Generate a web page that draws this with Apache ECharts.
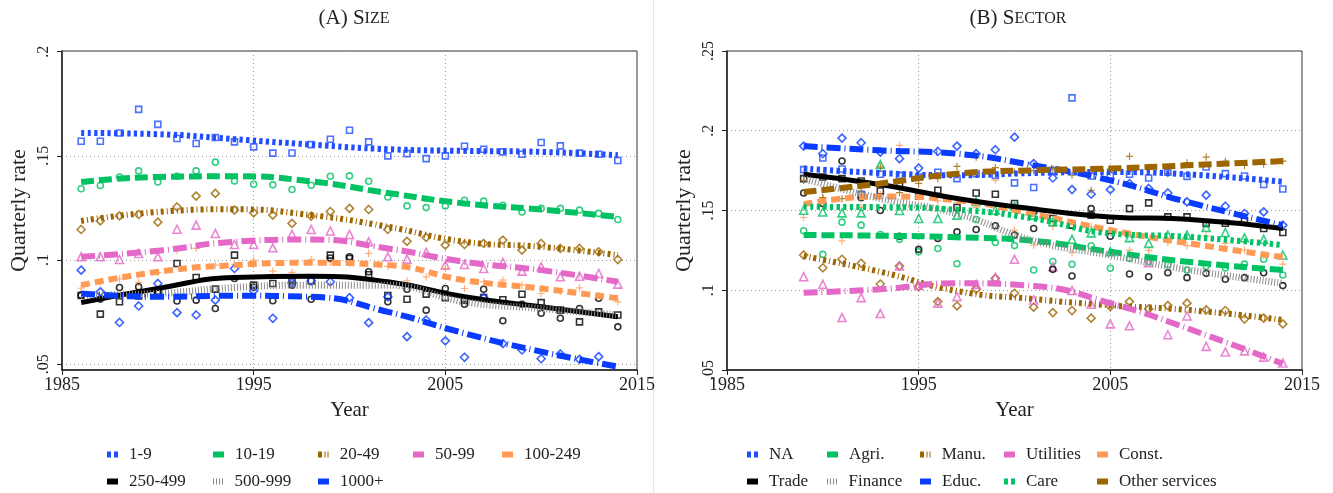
<!DOCTYPE html>
<html>
<head>
<meta charset="utf-8">
<script src="https://cdn.jsdelivr.net/npm/echarts@6/dist/echarts.min.js"></script>
<style>
  html, body { margin: 0; background: #fff; }
  #chart { width: 1333px; height: 493px; }
</style>
</head>
<body>
<div id="chart"></div>
<script>
// ---- panel A: firm size ----
const sizeYears = [1986, 1987, 1988, 1989, 1990, 1991, 1992, 1993, 1994, 1995, 1996, 1997, 1998, 1999, 2000,
                   2001, 2002, 2003, 2004, 2005, 2006, 2007, 2008, 2009, 2010, 2011, 2012, 2013, 2014];
const sizeFitYears = [1986, 1990, 1994, 1998, 2002, 2006, 2010, 2014];
const sizeNames = ['1-9', '10-19', '20-49', '50-99', '100-249', '250-499', '500-999', '1000+'];

const pts1_9 = [.157, .157, .161, .1723, .1651, .1583, .1559, .1588, .1567, .1543, .1513, .1514, .1554, .158, .1623,
                .1567, .150, .1511, .1487, .150, .1546, .1532, .1519, .1508, .1564, .1548, .1513, .1508, .1478];
const fit1_9 = [.161, .1604, .158, .1554, .1532, .1524, .1519, .1503];
const pts10_19 = [.1342, .1358, .1399, .1428, .1375, .1402, .1428, .147, .138, .1364, .1361, .1339, .1359, .1402, .1404,
                  .1378, .1303, .126, .1252, .126, .1287, .1283, .1263, .1231, .1248, .1248, .124, .1224, .1195];
const fit10_19 = [.1375, .1399, .1402, .1378, .1322, .1272, .1243, .1207];
const pts20_49 = [.1147, .1188, .1212, .1219, .1182, .1255, .1307, .132, .124, .1227, .1216, .1176, .1211, .1233, .1248,
                  .1243, .1147, .109, .1109, .1072, .1075, .108, .1096, .1048, .108, .1056, .1056, .104, .1003];
const fit20_49 = [.1188, .1231, .1244, .1216, .116, .1088, .1064, .1024];
const pts50_99 = [.1016, .1016, .1003, .1032, .1016, .1148, .1168, .1128, .1075, .1075, .1059, .1123, .1147, .114, .1123,
                  .1088, .1016, .1005, .1037, .0976, .0979, .096, .0989, .0947, .0968, .092, .0923, .0936, .0885];
const fit50_99 = [.1016, .1045, .1088, .1099, .1056, .0992, .0952, .0896];
const pts100_249 = [.0865, .0896, .091, .0893, .094, .1048, .1056, .0976, .098, .100, .0947, .0941, .1003, .099, .0985,
                    .1032, .097, .0901, .092, .096, .0864, .0896, .0904, .088, .084, .085, .0867, .083, .080];
const fit100_249 = [.088, .0944, .0976, .0987, .0976, .0904, .0864, .0817];
const pts250_499 = [.083, .0741, .080, .0828, .085, .0984, .0917, .0861, .1024, .088, .0888, .090, .090, .1024, .1008,
                    .093, .083, .0812, .0837, .082, .0808, .082, .081, .0836, .0796, .076, .0704, .0752, .0737];
const fit250_499 = [.0796, .0864, .0917, .0923, .0896, .0824, .0776, .0728];
const pts500_999 = [.0832, .0813, .0869, .0872, .0845, .0804, .0808, .0768, .0912, .087, .0805, .088, .0812, .101, .1016,
                    .0944, .080, .086, .076, .0864, .0788, .086, .0709, .0788, .0745, .0721, .0768, .0817, .068];
const fit500_999 = [.0832, .084, .0869, .088, .088, .080, .0768, .0737];
const pts1000 = [.0952, .0848, .0701, .078, .0888, .0748, .0737, .0808, .096, .0853, .0721, .0891, .0901, .0896, .082,
                 .070, .0824, .0633, .0713, .0613, .0534, .082, .060, .0569, .0527, .055, .0524, .0537, .047];
const fit1000 = [.084, .0824, .0829, .0824, .0752, .0649, .0561, .0489];

// ---- panel B: sector ----
const sectorYears = [1989, 1990, 1991, 1992, 1993, 1994, 1995, 1996, 1997, 1998, 1999, 2000, 2001,
                     2002, 2003, 2004, 2005, 2006, 2007, 2008, 2009, 2010, 2011, 2012, 2013, 2014];
const sectorFitYears = [1989, 1993, 1997, 2001, 2005, 2009, 2014];
const sectorNames = ['NA', 'Agri.', 'Manu.', 'Utilities', 'Const.', 'Trade', 'Finance', 'Educ.', 'Care', 'Other services'];

const ptsNA = [.1756, .1829, .176, .1602, .1727, .172, .171, .174, .170, .173, .172, .1673, .1644,
               .175, .2206, .1716, .172, .1727, .1704, .174, .1714, .1773, .1731, .1716, .1663, .1635];
const fitNA = [.1763, .1735, .1721, .1735, .1741, .1727, .168];
const ptsAgri = [.1373, .1225, .1427, .1408, .135, .1319, .1241, .1262, .1166, .1444, .130, .128, .1127,
                 .118, .1163, .1279, .1138, .120, .118, .116, .1127, .115, .114, .1164, .1194, .1096];
const fitAgri = [.1346, .1342, .1332, .131, .1241, .1179, .1127];
const ptsManu = [.1221, .1141, .1194, .1169, .1039, .1152, .1023, .0929, .0902, .1006, .1075, .0981, .0894,
                 .086, .0873, .0825, .0898, .0929, .0883, .0904, .0919, .0877, .0873, .0819, .0825, .0789];
const fitManu = [.1214, .1116, .0995, .0945, .0905, .0877, .0814];
const ptsUtil = [.1085, .1037, .0829, .0954, .0854, .1152, .103, .0919, .096, .1037, .1081, .1194, .0939,
                 .1148, .0998, .0912, .0789, .0777, .1173, .0721, .0839, .0648, .0613, .062, .0581, .0544];
const fitUtil = [.0985, .1006, .1044, .1027, .0919, .0762, .0539];
const ptsConst = [.1456, .1579, .131, .152, .160, .1908, .158, .156, .155, .152, .169, .1377, .1283,
                  .140, .1235, .1398, .1377, .1252, .125, .130, .128, .1339, .1294, .1252, .122, .1164];
const fitConst = [.1539, .1588, .1564, .1477, .1377, .1296, .1208];
const ptsTrade = [.170, .171, .170, .1685, .1623, .1658, .1589, .1627, .1519, .161, .1602, .1544, .150,
                  .145, .1408, .147, .1439, .1512, .1548, .146, .146, .1419, .142, .1435, .1387, .1362];
const fitTrade = [.1727, .1663, .1575, .151, .146, .1445, .1387];
const ptsFin = [.161, .1544, .181, .158, .150, .1339, .1256, .1325, .1366, .1381, .1404, .1346, .1387,
                .1131, .1089, .1512, .1339, .1102, .1085, .111, .1079, .1106, .1069, .1079, .111, .1029];
const fitFin = [.170, .1575, .148, .131, .122, .113, .1044];
const ptsEduc = [.1904, .1856, .1954, .1925, .1866, .1825, .1766, .187, .1904, .1856, .1881, .196, .1794,
                 .1704, .1631, .1602, .1631, .1669, .1638, .161, .1554, .1596, .1527, .1481, .1491, .1408];
const fitEduc = [.1904, .1877, .1856, .1783, .1689, .1554, .1408];
const ptsCare = [.1502, .1491, .1485, .1485, .1788, .150, .145, .145, .1471, .1556, .1502, .1527, .1471,
                 .1429, .1319, .136, .1241, .133, .1294, .1346, .1346, .1394, .1362, .1329, .1319, .1221];
const fitCare = [.1523, .1521, .1505, .145, .1356, .1335, .1283];
const ptsOther = [.1689, .1581, .1575, .1616, .1773, .1612, .167, .170, .1777, .1835, .1769, .174, .175,
                  .176, .1721, .1627, .176, .1839, .177, .1731, .1798, .1835, .1808, .1783, .179, .181];
const fitOther = [.1616, .1669, .1731, .1752, .1763, .1783, .181];

const xTicks = [1985, 1995, 2005, 2015];
const yTicksA = [.05, .1, .15, .2];
const yTicksB = [.05, .1, .15, .2, .25];

// ---- styles ----
const FONT = 'Liberation Serif';
const BLUE = '#1f4dff', BLUE2 = '#0a3cff', GREEN = '#00c263', BROWN = '#9c6500',
      PINK = '#e468c8', ORANGE = '#ff9a55', BLACK = '#000', GRAY = '#8a8a8a';
const LINES = {
  dots:    { width: 6, type: [3.3, 3.3] },
  dash:    { width: 6, type: [13, 5] },
  dashdot: { width: 6, type: [3, 3, 1, 3] },
  longdd:  { width: 6, type: [14, 4, 1, 4] },
  shortd:  { width: 6, type: [9, 5] },
  solid:   { width: 5, type: 'solid' },
  hatch:   { width: 7, type: [1, 2] }
};
const ICONS = {
  dots: 'path://M0,0h4v6h-4zM7,0h4v6h-4z',
  dash: 'rect',
  dashdot: 'path://M0,0h4v6h-4zM6.5,0h1v6h-1zM9.5,0h1v6h-1z',
  longdd: 'rect',
  shortd: 'rect',
  solid: 'rect',
  hatch: 'path://M0,0h1v6h-1zM3,0h1v6h-1zM6,0h1v6h-1zM9,0h1v6h-1z'
};
const PLUS = 'path://M3,0h1.2v7.2h-1.2zM0,3h7.2v1.2h-7.2z';
const MARK_SIZE = { rect: 6, circle: 6, diamond: 8, triangle: 8 };

const sizeSeries = [
  { pts: pts1_9, fit: fit1_9, color: BLUE, line: 'dots', mark: 'rect', mcolor: BLUE },
  { pts: pts10_19, fit: fit10_19, color: GREEN, line: 'dash', mark: 'circle', mcolor: GREEN },
  { pts: pts20_49, fit: fit20_49, color: BROWN, line: 'dashdot', mark: 'diamond', mcolor: BROWN },
  { pts: pts50_99, fit: fit50_99, color: PINK, line: 'longdd', mark: 'triangle', mcolor: PINK },
  { pts: pts100_249, fit: fit100_249, color: ORANGE, line: 'shortd', mark: PLUS, mcolor: ORANGE },
  { pts: pts250_499, fit: fit250_499, color: BLACK, line: 'solid', mark: 'rect', mcolor: BLACK },
  { pts: pts500_999, fit: fit500_999, color: GRAY, line: 'hatch', mark: 'circle', mcolor: BLACK },
  { pts: pts1000, fit: fit1000, color: BLUE2, line: 'longdd', mark: 'diamond', mcolor: BLUE2 }
];
const sectorSeries = [
  { pts: ptsNA, fit: fitNA, color: BLUE, line: 'dots', mark: 'rect', mcolor: BLUE },
  { pts: ptsAgri, fit: fitAgri, color: GREEN, line: 'dash', mark: 'circle', mcolor: GREEN },
  { pts: ptsManu, fit: fitManu, color: BROWN, line: 'dashdot', mark: 'diamond', mcolor: BROWN },
  { pts: ptsUtil, fit: fitUtil, color: PINK, line: 'longdd', mark: 'triangle', mcolor: PINK },
  { pts: ptsConst, fit: fitConst, color: ORANGE, line: 'shortd', mark: PLUS, mcolor: ORANGE },
  { pts: ptsTrade, fit: fitTrade, color: BLACK, line: 'solid', mark: 'rect', mcolor: BLACK },
  { pts: ptsFin, fit: fitFin, color: GRAY, line: 'hatch', mark: 'circle', mcolor: BLACK },
  { pts: ptsEduc, fit: fitEduc, color: BLUE2, line: 'longdd', mark: 'diamond', mcolor: BLUE2 },
  { pts: ptsCare, fit: fitCare, color: GREEN, line: 'dots', mark: 'triangle', mcolor: GREEN },
  { pts: ptsOther, fit: fitOther, color: BROWN, line: 'dash', mark: PLUS, mcolor: BROWN }
];

// legend slots (icon left x, row centre y)
const legendSlotsA = [[102, 453], [208, 453], [313, 453], [408, 453], [497, 453], [102, 480], [208, 480], [313, 480]];
const legendSlotsB = [[742, 453], [822, 453], [915, 453], [999, 453], [1092, 453],
                      [742, 480], [822, 480], [915, 480], [999, 480], [1092, 480]];

const series = [];
const legends = [];

function addPanel(gi, names, years, fitYears, defs, slots) {
  defs.forEach((d, i) => {
    const isPlus = d.mark === PLUS;
    series.push({
      name: names[i] + ' (obs)',
      type: 'scatter',
      xAxisIndex: gi, yAxisIndex: gi,
      symbol: d.mark,
      symbolSize: isPlus ? 7.2 : MARK_SIZE[d.mark],
      itemStyle: isPlus ? { color: d.mcolor } : { color: 'none', borderColor: d.mcolor, borderWidth: 1.6 },
      data: years.map((y, k) => [y, d.pts[k]]),
      z: 2, silent: true
    });
    series.push({
      name: names[i],
      type: 'line',
      xAxisIndex: gi, yAxisIndex: gi,
      smooth: 0.5,
      symbol: 'none',
      color: d.color,
      itemStyle: { color: d.color },
      lineStyle: Object.assign({ color: d.color, cap: 'butt' }, LINES[d.line]),
      data: fitYears.map((y, k) => [y, d.fit[k]]),
      z: 3, silent: true
    });
    legends.push({
      data: [{ name: names[i], icon: ICONS[d.line] }],
      left: slots[i][0], top: slots[i][1] - 12,
      itemWidth: 11, itemHeight: 6,
      selectedMode: false,
      textStyle: { fontFamily: FONT, fontSize: 17, color: '#222', padding: [0, 0, 0, 6] }
    });
  });
}
addPanel(0, sizeNames, sizeYears, sizeFitYears, sizeSeries, legendSlotsA);
addPanel(1, sectorNames, sectorYears, sectorFitYears, sectorSeries, legendSlotsB);

const fmtY = v => String(+v.toFixed(2)).replace(/^0/, '');
const dotted = { show: true, lineStyle: { color: '#999', type: [1, 3], width: 1 } };

function xAx(gi) {
  return {
    gridIndex: gi, type: 'value', min: xTicks[0], max: xTicks[xTicks.length - 1], interval: 10,
    name: 'Year', nameLocation: 'middle', nameGap: 30,
    nameTextStyle: { fontFamily: FONT, fontSize: 21, color: '#222' },
    axisLine: { lineStyle: { color: '#222', width: 1.5 } },
    axisTick: { length: 5, lineStyle: { color: '#222' } },
    axisLabel: { fontFamily: FONT, fontSize: 18, color: '#222', margin: 6, formatter: v => String(v) },
    splitLine: dotted
  };
}
function yAx(gi, ticks, min, max) {
  return {
    gridIndex: gi, type: 'value', min: min, max: max,
    name: 'Quarterly rate', nameLocation: 'middle', nameGap: 32, nameRotate: 90,
    nameTextStyle: { fontFamily: FONT, fontSize: 22, color: '#222' },
    axisLine: { show: true, lineStyle: { color: '#222', width: 1.5 } },
    axisTick: { show: true, length: 5, lineStyle: { color: '#222' }, customValues: ticks },
    axisLabel: { fontFamily: FONT, fontSize: 16, color: '#222', rotate: 90, margin: 10,
                 formatter: fmtY, customValues: ticks },
    splitLine: dotted
  };
}

const titleRich = {
  a: { fontFamily: FONT, fontSize: 21, fontWeight: 'normal', color: '#222' },
  b: { fontFamily: FONT, fontSize: 16, fontWeight: 'normal', color: '#222' }
};

const chart = echarts.init(document.getElementById('chart'), null, { renderer: 'canvas' });
chart.setOption({
  animation: false,
  backgroundColor: '#fff',
  title: [
    { text: '{a|(A) S}{b|IZE}', left: 349, top: 3, textAlign: 'center',
      textStyle: { fontWeight: 'normal', rich: titleRich } },
    { text: '{a|(B) S}{b|ECTOR}', left: 1013, top: 3, textAlign: 'center',
      textStyle: { fontWeight: 'normal', rich: titleRich } }
  ],
  legend: legends,
  grid: [
    { left: 62, right: 696, top: 51, bottom: 123, show: true, borderColor: '#333', borderWidth: 1 },
    { left: 727, right: 31, top: 51, bottom: 123, show: true, borderColor: '#333', borderWidth: 1 }
  ],
  xAxis: [xAx(0), xAx(1)],
  yAxis: [yAx(0, yTicksA, 0.0473, 0.2003), yAx(1, yTicksB, 0.05, 0.25)],
  graphic: [
    { type: 'line', shape: { x1: 653.5, y1: 0, x2: 653.5, y2: 493 }, style: { stroke: '#e6e6e6', lineWidth: 1 } }
  ],
  series: series
});
</script>
</body>
</html>
